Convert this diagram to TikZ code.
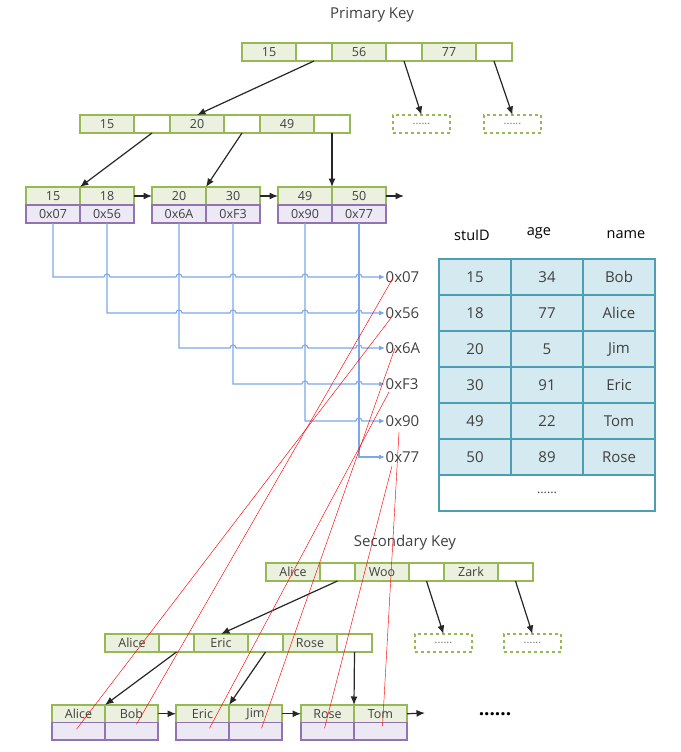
\documentclass[tikz,border=0pt]{standalone}
\usepackage{fontspec}
\setmainfont{Open Sans}
\usepackage{tikz}
\usetikzlibrary{arrows.meta,positioning}
\definecolor{bkedge}{RGB}{150,185,85}
\definecolor{bkfill}{RGB}{235,241,222}
\definecolor{bkpurp}{RGB}{145,115,180}
\definecolor{bkpfill}{RGB}{236,233,244}
\definecolor{bkblue}{RGB}{125,168,232}
\definecolor{bktip}{RGB}{60,115,210}
\definecolor{bkteal}{RGB}{75,158,180}
\definecolor{bktfill}{RGB}{212,234,240}
\definecolor{bktext}{RGB}{64,64,64}
\tikzset{
  bcell/.style={
    draw=bkedge, line width=1.2pt, outer sep=0pt, inner sep=0pt,
    anchor=north west, minimum height=18pt,
    font=\fontsize{12.5}{12.5}\selectfont, text=bktext
  },
  keyc/.style={bcell, fill=bkfill, minimum width=54pt},
  ptrc/.style={bcell, fill=white, minimum width=36pt},
  addrc/.style={bcell, draw=bkpurp, fill=bkpfill, minimum width=54pt},
  more/.style={bcell, dashed, minimum width=57pt, text=black!55,
    font=\fontsize{11}{11}\selectfont},
  tcell/.style={
    draw=bkteal, line width=1.3pt, fill=bktfill, outer sep=0pt, inner sep=0pt,
    anchor=north west, minimum width=72pt, minimum height=36pt,
    font=\fontsize{15}{15}\selectfont, text=bktext
  },
  hdr/.style={font=\fontsize{14.5}{14.5}\selectfont, text=black, inner sep=0pt},
  ttl/.style={font=\fontsize{15}{15}\selectfont, text=bktext, inner sep=0pt},
  addr/.style={anchor=west, inner sep=0.5pt, font=\fontsize{15}{15}\selectfont, text=bktext},
  arr/.style={-{Latex[length=8.5pt,width=7pt]}, draw=black!85, line width=1.2pt},
  blu/.style={-{Latex[length=6pt,width=5pt,fill=bktip]}, draw=bkblue, line width=1.1pt},
  redl/.style={draw=red, line width=0.45pt}
}
\begin{document}
\begin{tikzpicture}[x=1pt, y=-1pt]
  \useasboundingbox (0,0) rectangle (680,752);
  \node[ttl] (ptitle) at (372,15) {Primary Key};
  % primary key tree
  \foreach \k/\x [count=\i] in {15/242,56/332,77/422} {
    \node[keyc] (pr\i) at (\x,43) {\k};
    \node[ptrc] (prp\i) at (\x+54,43) {};
  }
  \foreach \k/\x [count=\i] in {15/80,20/170,49/260} {
    \node[keyc] (pm\i) at (\x,115) {\k};
    \node[ptrc] (pmp\i) at (\x+54,115) {};
  }
  \node[more] (pd1) at (393,115) {......};
  \node[more] (pd2) at (484,115) {......};
  \foreach \k/\a/\x [count=\i] in {15/0x07/26,18/0x56/80,20/0x6A/152,30/0xF3/206,49/0x90/278,50/0x77/332} {
    \node[keyc] (lk\i) at (\x,187) {\k};
    \node[addrc] (la\i) at (\x,205) {\a};
  }
  \coordinate (pend) at (404,196);
  \draw[arr] (prp1.south) -- (pm2.north);
  \draw[arr] (prp2.south) -- (pd1.north);
  \draw[arr] (prp3.south) -- (pd2.north);
  \draw[arr] (pmp1.south) -- (lk1.north east);
  \draw[arr] (pmp2.south) -- (lk3.north east);
  \draw[arr] (pmp3.south) -- (lk5.north east);
  \draw[arr] (lk2.east) -- (lk3.west);
  \draw[arr] (lk4.east) -- (lk5.west);
  \draw[arr] (lk6.east) -- (pend);
  % row addresses
  \foreach \a/\y [count=\i] in {0x07/277,0x56/313,0x6A/348,0xF3/384,0x90/421,0x77/457}
    \node[addr] (o\i) at (385,\y) {\a};
  \foreach \i/\hops in {1/{2,3,4,5,6},2/{3,4,5,6},3/{4,5,6},4/{5,6},5/{6}} {
    \draw[blu] (la\i.south) -- (la\i.south |- o\i.west)
      \foreach \j in \hops {-- ([xshift=-3pt]la\j.south |- o\i.west) arc[start angle=180, end angle=0, radius=3pt]}
      -- (o\i.west);
  }
  \draw[blu] (la6.south) |- (o6.west);
  % table
  \node[hdr] (hid) at (472,235) {stuID};
  \node[hdr] (hage) at (539,233) {age};
  \node[hdr] (hname) at (626,235) {name};
  \foreach \s/\ag/\nm [count=\i] in {15/34/Bob,18/77/Alice,20/5/Jim,30/91/Eric,49/22/Tom,50/89/Rose} {
    \node[tcell] (ts\i) at (439,{259+36*(\i-1)}) {\s};
    \node[tcell] (ta\i) at (511,{259+36*(\i-1)}) {\ag};
    \node[tcell] (tn\i) at (583,{259+36*(\i-1)}) {\nm};
  }
  \node[tcell, fill=white, minimum width=216pt, font=\fontsize{12.5}{12.5}\selectfont] (tmore) at (439,475) {......};
  % secondary key tree
  \node[ttl] (stitle) at (405,543) {Secondary Key};
  \foreach \k/\x [count=\i] in {Alice/266,Woo/355,Zark/444} {
    \node[keyc] (sr\i) at (\x,563) {\k};
    \node[ptrc, minimum width=35pt] (srp\i) at (\x+54,563) {};
  }
  \foreach \k/\x [count=\i] in {Alice/105,Eric/194,Rose/283} {
    \node[keyc] (sm\i) at (\x,634) {\k};
    \node[ptrc, minimum width=35pt] (smp\i) at (\x+54,634) {};
  }
  \node[more] (sd1) at (415,634) {......};
  \node[more] (sd2) at (504,634) {......};
  \foreach \k/\x [count=\i] in {Alice/52,Bob/105,Eric/176,Jim/229,Rose/301,Tom/354} {
    \node[keyc, minimum width=53pt, minimum height=17.5pt] (sk\i) at (\x,705) {\k};
    \node[addrc, minimum width=53pt, minimum height=17.5pt] (sa\i) at (\x,722.5) {};
  }
  \coordinate (send) at (425,713);
  \node[font=\bfseries\fontsize{19}{19}\selectfont, inner sep=0pt] (sdots) at (495,714) {......};
  \draw[arr] (srp1.south) -- (sm2.north);
  \draw[arr] (srp2.south) -- (sd1.north);
  \draw[arr] (srp3.south) -- (sd2.north);
  \draw[arr] (smp1.south) -- (sk1.north east);
  \draw[arr] (smp2.south) -- (sk3.north east);
  \draw[arr] (smp3.south) -- (sk5.north east);
  \draw[arr] (sk2.east) -- (sk3.west);
  \draw[arr] (sk4.east) -- (sk5.west);
  \draw[arr] (sk6.east) -- (send);
  % back to the rows
  \draw[redl] ([xshift=8pt,yshift=-1pt]o1.west) -- ([xshift=5pt,yshift=7pt]sa2.center);
  \draw[redl] ([xshift=6pt,yshift=-5pt]o2.west) -- ([xshift=-2pt,yshift=2pt]sa1.center);
  \draw[redl] ([xshift=10pt]o3.west) -- ([xshift=6pt,yshift=3pt]sa4.center);
  \draw[redl] ([xshift=4pt,yshift=-8pt]o4.west) -- ([xshift=7pt,yshift=3pt]sa3.center);
  \draw[redl] ([xshift=14pt,yshift=-11pt]o5.west) -- ([xshift=2pt,yshift=5pt]sa6.center);
  \draw[redl] ([xshift=7pt,yshift=-9pt]o6.west) -- ([xshift=-3pt,yshift=3pt]sa5.center);
\end{tikzpicture}
\end{document}
